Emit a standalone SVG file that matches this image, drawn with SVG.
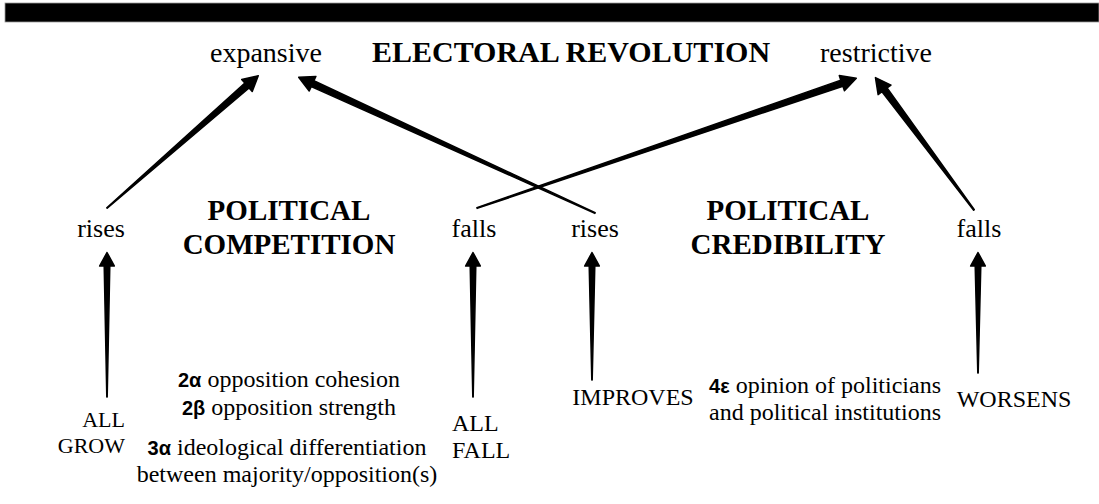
<svg xmlns="http://www.w3.org/2000/svg" width="1099" height="504" viewBox="0 0 1099 504">
<style>
.t{font-family:"Liberation Serif","Times New Roman",serif;fill:#000}
.b{font-weight:bold}
.n{font-family:"Liberation Sans",Arial,sans-serif;font-weight:bold;font-size:20px}
.arrow{fill:#000;stroke:#000;stroke-width:1.5;stroke-linejoin:round}
</style>
<rect x="5" y="3" width="1094" height="19" fill="#000" stroke="#999" stroke-width="0.8"/>
<g id="top-expansive"><text class="t" x="210" y="62" font-size="28">expansive</text></g>
<g id="title"><text class="t b" x="571" y="62" font-size="30" text-anchor="middle">ELECTORAL REVOLUTION</text></g>
<g id="top-restrictive"><text class="t" x="820" y="62" font-size="28">restrictive</text></g>
<g id="comp-rises"><text class="t" x="101" y="237" font-size="26" text-anchor="middle">rises</text></g>
<g id="comp-title"><text class="t b" x="289" y="220" font-size="29" text-anchor="middle">POLITICAL</text><text class="t b" x="289" y="254" font-size="29" text-anchor="middle">COMPETITION</text></g>
<g id="comp-falls"><text class="t" x="474" y="237" font-size="26" text-anchor="middle">falls</text></g>
<g id="cred-rises"><text class="t" x="595" y="237" font-size="26" text-anchor="middle">rises</text></g>
<g id="cred-title"><text class="t b" x="788" y="220" font-size="29" text-anchor="middle">POLITICAL</text><text class="t b" x="788" y="254" font-size="29" text-anchor="middle">CREDIBILITY</text></g>
<g id="cred-falls"><text class="t" x="979" y="237" font-size="26" text-anchor="middle">falls</text></g>
<g id="all-grow"><text class="t" x="125" y="427" font-size="22" text-anchor="end">ALL</text><text class="t" x="125" y="453" font-size="22" text-anchor="end">GROW</text></g>
<g id="comp-factors" font-size="24">
<text class="t" x="289" y="387" text-anchor="middle"><tspan class="n">2α</tspan> opposition cohesion</text>
<text class="t" x="289" y="415" text-anchor="middle"><tspan class="n">2β</tspan> opposition strength</text>
<text class="t" x="287" y="455" text-anchor="middle"><tspan class="n">3α</tspan> ideological differentiation</text>
<text class="t" x="287" y="482" text-anchor="middle">between majority/opposition(s)</text>
</g>
<g id="all-fall"><text class="t" x="452" y="431" font-size="24">ALL</text><text class="t" x="452" y="458" font-size="24">FALL</text></g>
<g id="improves"><text class="t" x="633" y="405" font-size="24" text-anchor="middle">IMPROVES</text></g>
<g id="cred-factor" font-size="24">
<text class="t" x="825" y="393" text-anchor="middle"><tspan class="n">4ε</tspan> opinion of politicians</text>
<text class="t" x="825" y="420" text-anchor="middle">and political institutions</text>
</g>
<g id="worsens"><text class="t" x="1014" y="407" font-size="24" text-anchor="middle">WORSENS</text></g>
<g id="connectors">
<path class="arrow" d="M106.8,397 L107.2,397 L109.8,266 L114.4,266 L107,252.5 L99.6,266 L104.2,266 Z"/>
<path class="arrow" d="M472.8,397 L473.2,397 L475.8,266 L480.4,266 L473,252.5 L465.6,266 L470.2,266 Z"/>
<path class="arrow" d="M591.8,380 L592.2,380 L594.8,266 L599.4,266 L592,252.5 L584.6,266 L589.2,266 Z"/>
<path class="arrow" d="M977.8,373 L978.2,373 L980.8,266 L985.4,266 L978,252.5 L970.6,266 L975.2,266 Z"/>
<path class="arrow" d="M107.2,208.23 L249.07,87.95 L252.23,91.56 L258.25,75.66 L241.69,79.52 L244.85,83.13 L106.8,207.77 Z"/>
<path class="arrow" d="M595.17,212.64 L313.88,80.75 L315.88,76.39 L298.68,77.31 L309.22,90.93 L311.22,86.57 L594.83,213.36 Z"/>
<path class="arrow" d="M477.13,208.38 L842.9,86.21 L844.45,90.75 L856.29,78.24 L839.27,75.61 L840.82,80.15 L476.87,207.62 Z"/>
<path class="arrow" d="M974.32,209.76 L887.12,87.93 L890.97,85.06 L875.45,77.6 L878.13,94.62 L881.98,91.75 L973.68,210.24 Z"/>
</g>
</svg>
